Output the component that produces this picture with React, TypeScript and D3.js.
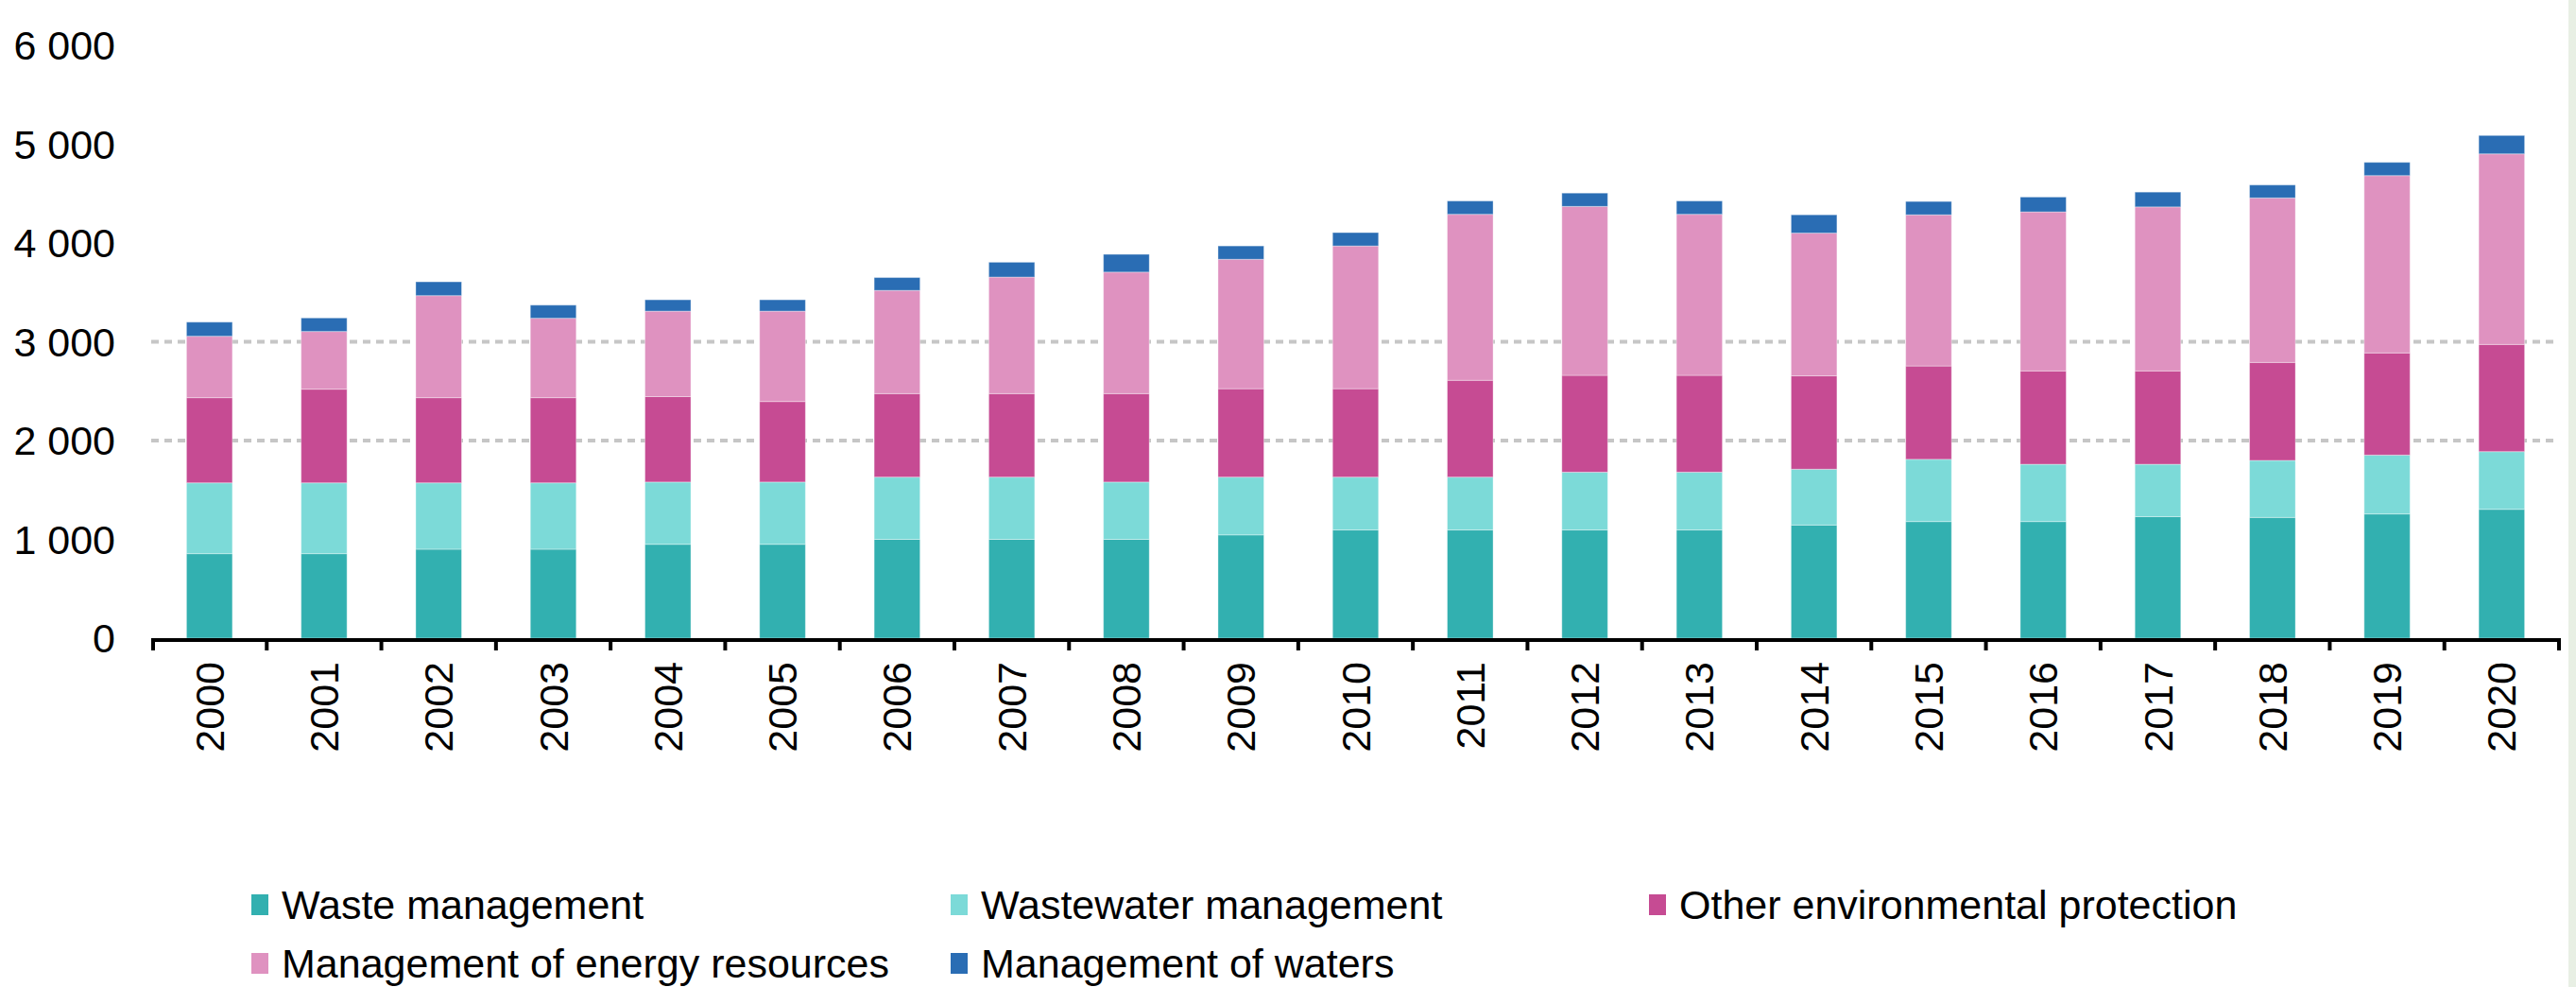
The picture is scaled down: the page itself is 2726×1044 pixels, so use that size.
import React from "react";
import * as d3 from "d3";

const years = ["2000","2001","2002","2003","2004","2005","2006","2007","2008","2009","2010","2011","2012","2013","2014","2015","2016","2017","2018","2019","2020"];
const seriesNames = ["Waste management","Wastewater management","Other environmental protection","Management of energy resources","Management of waters"];
const seriesColors = ["#32b0b0","#7cdad8","#c64b93","#df92c0","#2a6db4"];

const wasteManagement = [855,855,900,900,950,950,1000,1000,1000,1045,1095,1095,1095,1095,1145,1180,1180,1230,1222,1257,1304];
const wastewaterManagement = [717,717,672,672,630,630,630,630,580,585,535,535,585,585,565,630,580,530,577,596,584];
const otherProtection = [862,948,862,862,865,815,845,845,895,895,895,980,980,980,945,945,945,945,992,1034,1085];
const energyResources = [622,584,1033,804,865,915,1045,1180,1230,1310,1445,1680,1710,1630,1445,1530,1610,1660,1665,1795,1929];
const watersManagement = [143,137,140,133,115,115,130,150,180,135,135,135,135,135,185,135,150,150,131,134,186];

const yTicks = [0,1000,2000,3000,4000,5000,6000];
const gridValues = [2000,3000];

const W = 2726, H = 1044;
const FONT = "'Liberation Sans', Arial, Helvetica, sans-serif";

export default function App() {
  const x = d3.scaleBand<string>().domain(years).range([161, 2708]).paddingInner(0.6).paddingOuter(0.3);
  const y = d3.scaleLinear().domain([0, 6000]).range([675, 48]);
  const rows = years.map((yr, i) => ({
    year: yr,
    s0: wasteManagement[i], s1: wastewaterManagement[i], s2: otherProtection[i], s3: energyResources[i], s4: watersManagement[i],
  }));
  const keys = ["s0","s1","s2","s3","s4"];
  const stacked = d3.stack<any>().keys(keys)(rows);
  const fmt = (v: number) => d3.format(",")(v).replace(/,/g, " ");
  const step = x.step();
  const boundaries = d3.range(years.length + 1).map(i => 161 + i * step);

  const legendItems = [
    { i: 0, x: 266, y: 972 },
    { i: 1, x: 1006, y: 972 },
    { i: 2, x: 1745, y: 972 },
    { i: 3, x: 266, y: 1034 },
    { i: 4, x: 1006, y: 1034 },
  ];

  return (
    <svg width={W} height={H} style={{ position: "absolute", left: 0, top: 0, background: "#fff" }} fontFamily={FONT}>
      <rect x={0} y={0} width={W} height={H} fill="#fff" />
      <rect x={2718} y={0} width={8} height={H} fill="#e8efe4" />
      {gridValues.map(v => (
        <line key={v} x1={160} x2={2705} y1={y(v)} y2={y(v)} stroke="#c6c6c6" strokeWidth={4} strokeDasharray="8,6" />
      ))}
      {stacked.map((layer, li) => (
        <g key={li} fill={seriesColors[li]}>
          {layer.map((d: any, j: number) => (
            <rect key={j} x={x(years[j])} width={x.bandwidth()} y={y(d[1])} height={y(d[0]) - y(d[1])} stroke="rgba(255,255,255,0.35)" strokeWidth={1} />
          ))}
        </g>
      ))}
      <line x1={160} x2={2710} y1={677} y2={677} stroke="#000" strokeWidth={4} />
      {boundaries.map((bx, i) => (
        <line key={i} x1={Math.min(Math.max(bx, 162), 2708)} x2={Math.min(Math.max(bx, 162), 2708)} y1={675} y2={688} stroke="#000" strokeWidth={4} />
      ))}
      {yTicks.map(v => (
        <text key={v} x={122} y={y(v)} textAnchor="end" dominantBaseline="central" fontSize={43} fill="#000">{fmt(v)}</text>
      ))}
      {years.map(yr => {
        const cx = (x(yr) as number) + x.bandwidth() / 2;
        return (
          <text key={yr} transform={`translate(${cx},700) rotate(-90)`} textAnchor="end" dominantBaseline="central" fontSize={43} fill="#000">{yr}</text>
        );
      })}
      {legendItems.map(it => (
        <g key={it.i}>
          <rect x={it.x} y={it.y - 26} width={18} height={22} fill={seriesColors[it.i]} />
          <text x={it.x + 32} y={it.y} fontSize={43} fill="#000">{seriesNames[it.i]}</text>
        </g>
      ))}
    </svg>
  );
}
